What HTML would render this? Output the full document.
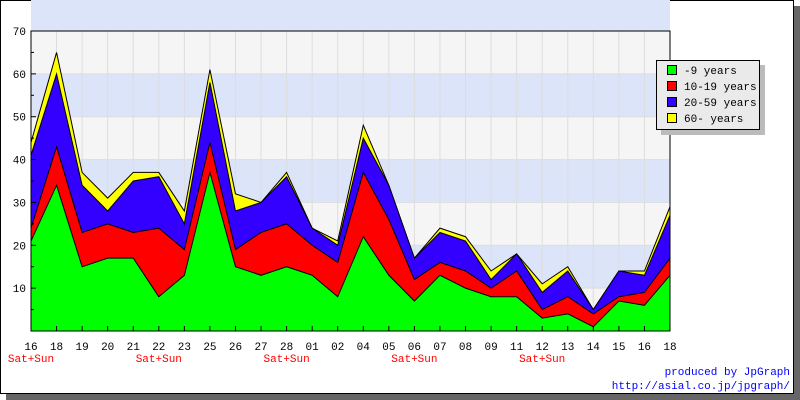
<!DOCTYPE html>
<html><head><meta charset="utf-8"><style>
body{margin:0;background:#fff;}
svg{display:block;font-family:"Liberation Mono","DejaVu Sans Mono",monospace;}
</style></head><body>
<svg width="800" height="400" xmlns="http://www.w3.org/2000/svg">
<rect x="6" y="6" width="794" height="394" fill="#666"/>
<rect x="0.5" y="0.5" width="793" height="393" fill="#fff" stroke="#000"/>
<text x="400" y="15" text-anchor="middle" font-size="12" font-weight="bold">The number of influenza infection persons</text>
<g id="plot"></g>
<g>
<rect x="661" y="65" width="104" height="70" fill="#bbb"/>
<rect x="656.5" y="60.5" width="103" height="69" fill="#eaeaea" stroke="#000"/>
<rect x="667.5" y="65.5" width="9" height="9" fill="#00ff00" stroke="#000"/>
<text x="684" y="74" font-size="11">-9 years</text>
<rect x="667.5" y="81.5" width="9" height="9" fill="#ff0000" stroke="#000"/>
<text x="684" y="90" font-size="11">10-19 years</text>
<rect x="667.5" y="97.5" width="9" height="9" fill="#3300ff" stroke="#000"/>
<text x="684" y="106" font-size="11">20-59 years</text>
<rect x="667.5" y="113.5" width="9" height="9" fill="#ffff00" stroke="#000"/>
<text x="684" y="122" font-size="11">60- years</text>
</g>
<text x="790" y="375" text-anchor="end" font-size="11" fill="#0000ff">produced by JpGraph</text>
<text x="790" y="389" text-anchor="end" font-size="11" fill="#0000ff">http://asial.co.jp/jpgraph/</text>
</svg>
<script>
const categories=["16","18","19","20","21","22","23","25","26","27","28","01","02","04","05","06","07","08","09","11","12","13","14","15","16","18"];
const weekend=[1,0,0,0,0,1,0,0,0,0,1,0,0,0,0,1,0,0,0,0,1,0,0,0,0,0];
const age0to9=[21,34,15,17,17,8,13,37,15,13,15,13,8,22,13,7,13,10,8,8,3,4,1,7,6,13];
const age10to19=[3,9,8,8,6,16,6,7,4,10,10,7,8,15,13,5,3,4,2,6,2,4,3,1,3,4];
const age20to59=[17,17,11,3,12,12,6,14,9,7,11,4,4,8,8,5,7,7,2,4,4,6,1,6,4,10];
const age60plus=[3,5,3,3,2,1,3,3,4,0,1,0,1,3,0,0,1,1,2,0,2,1,0,0,1,2];
const yTicks=[10,20,30,40,50,60,70];
const X0=31,X1=670,Y0=331,Y1=31,YMAX=70;
const NS="http://www.w3.org/2000/svg";
const g=document.getElementById('plot');
const xs=i=>X0+(X1-X0)*i/(categories.length-1);
const ys=v=>Y0-(Y0-Y1)*v/YMAX;
function mk(t,a){const e=document.createElementNS(NS,t);for(const k in a)e.setAttribute(k,a[k]);g.appendChild(e);return e;}
let bg=mk('rect',{x:X0,y:Y1,width:X1-X0,height:Y0-Y1,fill:'#f5f5f5'});


for(let v=0;v<YMAX;v+=20){let b=mk('rect',{x:X0,y:ys(v+20),width:X1-X0,height:ys(v+10)-ys(v+20),fill:'#dce4fa'});

}
categories.forEach((c,i)=>{let l=mk('line',{x1:xs(i),x2:xs(i),y1:Y1,y2:Y0,stroke:'#ddd'});

});
yTicks.forEach(v=>{let l=mk('line',{x1:X0,x2:X1,y1:ys(v),y2:ys(v),stroke:'#ddd'});

});
const series=[[age0to9,'#00ff00','area-0-9'],[age10to19,'#ff0000','area-10-19'],[age20to59,'#3300ff','area-20-59'],[age60plus,'#ffff00','area-60']];
let cum=categories.map(()=>0);
const layers=[];
series.forEach(s=>{const lo=cum.slice();cum=cum.map((c,i)=>c+s[0][i]);layers.push([lo,cum.slice(),s[1],s[2]]);});
layers.reverse().forEach(([lo,hi,col,name])=>{
 let pts=hi.map((v,i)=>xs(i)+','+ys(v));
 pts.push(xs(categories.length-1)+','+Y0,X0+','+Y0);
 let p=mk('polygon',{points:pts.join(' '),fill:col,stroke:'#000','stroke-width':1});
 
 
});
let ax=mk('rect',{x:X0,y:Y1,width:X1-X0,height:Y0-Y1,fill:'none',stroke:'#000'});


for(let v=5;v<YMAX;v+=5){let t=mk('line',{x1:X0,x2:X0+(v%10?3:5),y1:ys(v),y2:ys(v),stroke:'#000'});

}
yTicks.forEach(v=>{let t=mk('text',{x:X0-5,y:ys(v)+4,'text-anchor':'end','font-size':11});t.textContent=v;

});
categories.forEach((c,i)=>{let tk=mk('line',{x1:xs(i),x2:xs(i),y1:Y0,y2:Y0-5,stroke:'#000'});


let t=mk('text',{x:xs(i),y:Y0+19,'text-anchor':'middle','font-size':11});t.textContent=c;


if(weekend[i]){let w=mk('text',{x:xs(i),y:Y0+31,'text-anchor':'middle','font-size':11,fill:'#ff0000'});w.textContent='Sat+Sun';

}});
</script>
</body></html>
